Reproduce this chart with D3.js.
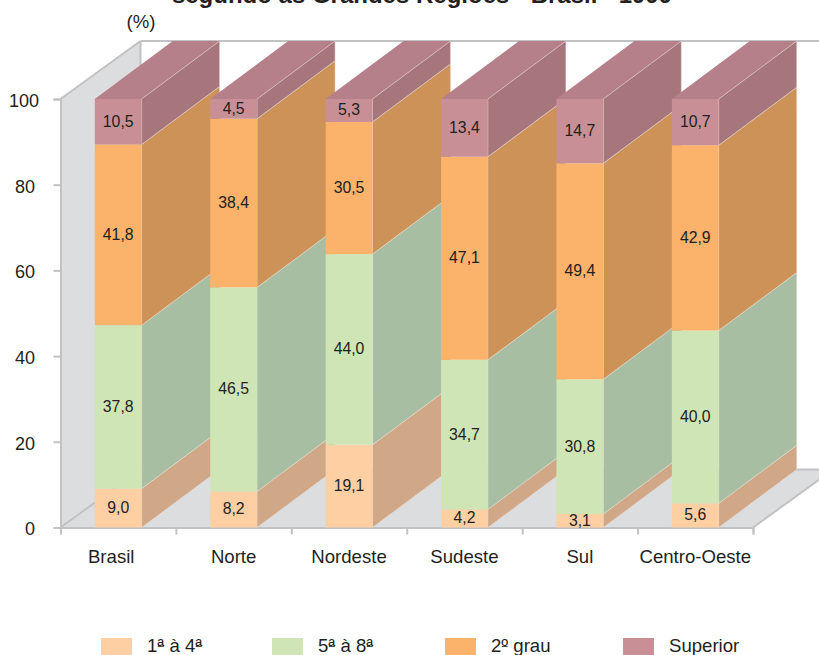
<!DOCTYPE html>
<html lang="pt">
<head>
    <meta charset="UTF-8">
    <title>Grau de instrução</title>
    <script src="https://cdn.jsdelivr.net/npm/d3@7"></script>
    <style>
        html, body { margin: 0; padding: 0; background: #fff; }
        svg { display: block; }
        text { font-family: "Liberation Sans", Arial, sans-serif; fill: #231f20; }
    </style>
</head>
<body>
<script>
    var regions = ["Brasil", "Norte", "Nordeste", "Sudeste", "Sul", "Centro-Oeste"];
    var levels = ["1ª à 4ª", "5ª à 8ª", "2º grau", "Superior"];
    var grade1to4 = [9.0, 8.2, 19.1, 4.2, 3.1, 5.6];
    var grade5to8 = [37.8, 46.5, 44.0, 34.7, 30.8, 40.0];
    var highSchool = [41.8, 38.4, 30.5, 47.1, 49.4, 42.9];
    var college = [10.5, 4.5, 5.3, 13.4, 14.7, 10.7];
    var yTicks = [0, 20, 40, 60, 80, 100];

    var frontColors = ["#fdcfa3", "#cfe5b5", "#fbb26a", "#c98f97"];
    var sideColors = ["#d0a888", "#a8bea3", "#cc9257", "#a6767c"];
    var topColor = "#b6808a";
    var lineColor = "#c1c2c4";
    var wallColor = "#dcdddf";

    var w = 819, h = 655;
    var plotLeft = 60.5, plotRight = 753, plotBottom = 527.5, plotTop = 99;
    var depthX = 80, depthY = -58;      // recuo da parede do fundo
    var barDepthX = 78, barDepthY = -58;

    var svg = d3.select("body").append("svg").attr("width", w).attr("height", h);

    var x = d3.scaleBand().domain(regions).range([plotLeft, plotRight]).paddingInner(0.594).paddingOuter(0.297);
    var y = d3.scaleLinear().domain([0, 100]).range([plotBottom, plotTop]);

    var table = regions.map(function (r, i) {
        return { region: r, 0: grade1to4[i], 1: grade5to8[i], 2: highSchool[i], 3: college[i] };
    });
    var series = d3.stack().keys([0, 1, 2, 3]).offset(d3.stackOffsetExpand)(table);

    function poly(points) {
        return points.map(function (p) { return p.join(","); }).join(" ");
    }

    // paredes
    svg.append("polygon")
        .attr("points", poly([[plotLeft, plotTop], [plotLeft + depthX, plotTop + depthY], [plotLeft + depthX, plotBottom + depthY], [plotLeft, plotBottom]]))
        .attr("fill", wallColor);
    svg.append("polygon")
        .attr("points", poly([[plotLeft, plotBottom], [plotRight, plotBottom], [plotRight + depthX, plotBottom + depthY], [plotLeft + depthX, plotBottom + depthY]]))
        .attr("fill", wallColor);

    var frame = [
        [[plotLeft, plotTop], [plotLeft + depthX, plotTop + depthY]],
        [[plotLeft + depthX, plotTop + depthY], [w, plotTop + depthY]],
        [[plotLeft + depthX, plotTop + depthY], [plotLeft + depthX, plotBottom + depthY]],
        [[plotLeft, plotBottom], [plotLeft + depthX, plotBottom + depthY]],
        [[plotLeft + depthX, plotBottom + depthY], [w, plotBottom + depthY]],
        [[plotRight, plotBottom], [plotRight + depthX, plotBottom + depthY]]
    ];
    svg.selectAll("line.frame").data(frame).enter().append("line")
        .attr("class", "frame")
        .attr("x1", function (d) { return d[0][0]; })
        .attr("y1", function (d) { return d[0][1]; })
        .attr("x2", function (d) { return d[1][0]; })
        .attr("y2", function (d) { return d[1][1]; })
        .attr("stroke", lineColor)
        .attr("stroke-width", 2);

    // eixos
    var gy = svg.append("g").attr("transform", "translate(" + plotLeft + ",0)")
        .call(d3.axisLeft(y).tickValues(yTicks).tickSize(7));
    gy.select(".domain").attr("stroke", lineColor).attr("stroke-width", 2);
    gy.selectAll(".tick line").attr("stroke", lineColor).attr("stroke-width", 2);
    gy.selectAll("text")
        .attr("font-size", 18)
        .attr("x", function (d) { return d === 100 ? -21.5 : -25.5; })
        .attr("y", 1)
        .attr("dy", "0.36em");

    var xEdge = d3.scaleLinear().domain([0, regions.length]).range([plotLeft, plotRight]);
    var gx = svg.append("g").attr("transform", "translate(0," + plotBottom + ")")
        .call(d3.axisBottom(xEdge).ticks(regions.length).tickSize(7).tickFormat(""));
    gx.select(".domain").attr("stroke", lineColor).attr("stroke-width", 2);
    gx.selectAll(".tick line").attr("stroke", lineColor).attr("stroke-width", 2);

    // barras, da esquerda para a direita
    regions.forEach(function (r, i) {
        var g = svg.append("g");
        var x0 = x(r), x1 = x(r) + x.bandwidth();
        var yTop = y(100);
        g.append("polygon")
            .attr("points", poly([[x0, yTop], [x1, yTop], [x1 + barDepthX, yTop + barDepthY], [x0 + barDepthX, yTop + barDepthY]]))
            .attr("fill", topColor);
        series.forEach(function (s, k) {
            var y0 = y(s[i][0] * 100), y1 = y(s[i][1] * 100);
            g.append("polygon")
                .attr("points", poly([[x1, y0], [x1 + barDepthX, y0 + barDepthY], [x1 + barDepthX, y1 + barDepthY], [x1, y1]]))
                .attr("fill", sideColors[k])
                .attr("stroke", "#eadfd6")
                .attr("stroke-width", 0.5);
        });
        series.forEach(function (s, k) {
            var y0 = y(s[i][0] * 100), y1 = y(s[i][1] * 100);
            g.append("rect")
                .attr("x", x0).attr("y", y1).attr("width", x.bandwidth()).attr("height", y0 - y1)
                .attr("fill", frontColors[k]);
        });
        series.forEach(function (s, k) {
            var y0 = y(s[i][0] * 100), y1 = y(s[i][1] * 100);
            var value = [grade1to4, grade5to8, highSchool, college][k][i];
            g.append("text")
                .attr("x", (x0 + x1) / 2)
                .attr("y", (y0 + y1) / 2 + 5)
                .attr("text-anchor", "middle")
                .attr("font-size", 15.8)
                .text(value.toFixed(1).replace(".", ","));
        });
    });

    // textos
    svg.selectAll("text.region").data(regions).enter().append("text")
        .attr("class", "region")
        .attr("x", function (d, i) { return x(d) + x.bandwidth() / 2 + (i === 0 ? -7 : 0); })
        .attr("y", 563)
        .attr("text-anchor", "middle")
        .attr("font-size", 18.6)
        .text(function (d) { return d; });

    svg.append("text").attr("x", 141).attr("y", 28).attr("text-anchor", "middle")
        .attr("font-size", 18.6).text("(%)");

    svg.append("text").attr("x", 422).attr("y", 3).attr("text-anchor", "middle")
        .attr("font-size", 24).attr("font-weight", "bold")
        .text("segundo as Grandes Regiões - Brasil - 1999");

    // legenda
    var legendX = [101, 272, 445, 623];
    var legend = svg.selectAll("g.legend").data(levels).enter().append("g").attr("class", "legend");
    legend.append("rect")
        .attr("x", function (d, i) { return legendX[i]; })
        .attr("y", 638).attr("width", 31).attr("height", 17)
        .attr("fill", function (d, i) { return frontColors[i]; });
    var legendText = legend.append("text")
        .attr("x", function (d, i) { return legendX[i] + 46; })
        .attr("y", 652).attr("font-size", 18.6)
        .text(function (d) { return d; });

    // traço sob os ordinais
    legendText.each(function (d) {
        for (var c = 0; c < d.length; c++) {
            if (d[c] === "ª" || d[c] === "º") {
                var a = this.getStartPositionOfChar(c), b = this.getEndPositionOfChar(c);
                svg.append("line")
                    .attr("x1", a.x + 0.5).attr("x2", b.x - 0.5)
                    .attr("y1", 646.5).attr("y2", 646.5)
                    .attr("stroke", "#231f20").attr("stroke-width", 0.8);
            }
        }
    });
</script>
</body>
</html>
